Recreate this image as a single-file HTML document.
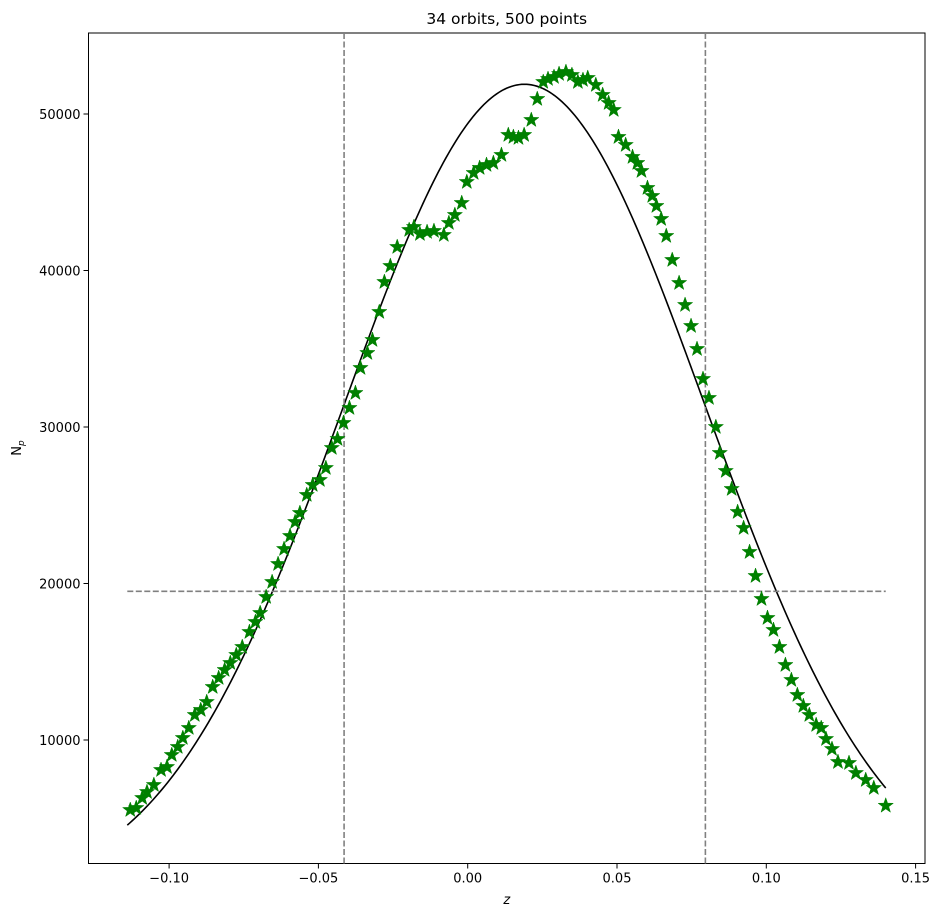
<!DOCTYPE html>
<html><head><meta charset="utf-8"><style>
html,body{margin:0;padding:0;background:#fff;}
svg text{font-family:"DejaVu Sans","Liberation Sans",sans-serif;font-size:13px;fill:#000;}
</style></head><body>
<svg id="chart" width="941" height="917" xmlns="http://www.w3.org/2000/svg"></svg>
<script>
var zVals=[-0.1130,-0.1110,-0.1090,-0.1074,-0.1051,-0.1027,-0.1007,-0.0991,-0.0971,-0.0954,-0.0934,-0.0914,-0.0894,-0.0874,-0.0854,-0.0834,-0.0814,-0.0795,-0.0775,-0.0755,-0.0731,-0.0711,-0.0695,-0.0675,-0.0655,-0.0635,-0.0615,-0.0595,-0.0578,-0.0562,-0.0539,-0.0519,-0.0495,-0.0475,-0.0455,-0.0436,-0.0416,-0.0396,-0.0376,-0.0359,-0.0336,-0.0319,-0.0296,-0.0279,-0.0259,-0.0236,-0.0196,-0.0180,-0.0160,-0.0136,-0.0113,-0.0080,-0.0063,-0.0043,-0.0020,-0.0003,0.0020,0.0040,0.0063,0.0086,0.0113,0.0136,0.0153,0.0170,0.0189,0.0213,0.0233,0.0253,0.0269,0.0289,0.0306,0.0329,0.0349,0.0369,0.0386,0.0402,0.0429,0.0452,0.0472,0.0489,0.0505,0.0529,0.0552,0.0568,0.0582,0.0602,0.0618,0.0632,0.0648,0.0665,0.0685,0.0708,0.0728,0.0748,0.0768,0.0788,0.0808,0.0831,0.0844,0.0864,0.0884,0.0904,0.0924,0.0944,0.0964,0.0984,0.1004,0.1024,0.1044,0.1064,0.1084,0.1104,0.1124,0.1144,0.1167,0.1184,0.1200,0.1220,0.1240,0.1277,0.1300,0.1333,0.1360,0.1400];
var nVals=[5527,5655,6294,6677,7125,8083,8275,9042,9553,10128,10767,11598,11917,12428,13387,13962,14473,14920,15432,15943,16901,17540,18115,19138,20096,21246,22205,23036,23930,24505,25656,26295,26614,27381,28659,29234,30256,31215,32173,33771,34729,35560,37349,39266,40289,41503,42589,42781,42333,42461,42525,42270,43036,43548,44314,45656,46231,46551,46743,46870,47382,48660,48532,48468,48660,49618,50960,52046,52238,52366,52557,52685,52493,52046,52174,52302,51855,51216,50704,50257,48532,48021,47254,46870,46359,45273,44762,44123,43292,42206,40672,39202,37797,36455,34985,33068,31854,30001,28339,27189,26039,24569,23547,22013,20480,19010,17796,17029,15943,14793,13834,12876,12173,11598,10959,10767,10064,9425,8594,8530,7891,7444,6933,5800];
var fitParams=[51900,0.019,0.0603];
var fitRange=[-0.114,0.140];
var hLineVal=19500;
var vLineVals=[-0.0414,0.0796];
var xTicks=[-0.10,-0.05,0.00,0.05,0.10,0.15];
var xTickLabels=["\u22120.10","\u22120.05","0.00","0.05","0.10","0.15"];
var yTicks=[10000,20000,30000,40000,50000];
var yTickLabels=["10000","20000","30000","40000","50000"];

(function(){
var L=88.5,R=925,T=33,B=863.5;
function X(z){return 467.7+z*2986;}
function Y(n){return 740-(n-10000)*0.01565;}
var root=document.getElementById('chart');
var NS='http://www.w3.org/2000/svg';
function mk(tag,attrs,parent){var e=document.createElementNS(NS,tag);for(var k in attrs)e.setAttribute(k,attrs[k]);(parent||root).appendChild(e);return e;}

var fr=mk('rect',{x:L,y:T,width:R-L,height:B-T,fill:'none',stroke:'#000','stroke-width':1});



var A=fitParams[0],mu=fitParams[1],sg=fitParams[2];
var d='';
for(var i=0;i<=300;i++){var z=fitRange[0]+(fitRange[1]-fitRange[0])*i/300;var n=A*Math.exp(-(z-mu)*(z-mu)/(2*sg*sg));d+=(i?'L':'M')+X(z).toFixed(2)+','+Y(n).toFixed(2);}
var fc=mk('path',{d:d,fill:'none',stroke:'#000','stroke-width':1.6});



var hl=mk('line',{x1:X(fitRange[0]),x2:X(fitRange[1]),y1:Y(hLineVal),y2:Y(hLineVal),stroke:'#808080','stroke-width':1.6,'stroke-dasharray':'6,2.5'});


vLineVals.forEach(function(v,i){
  var vl=mk('line',{x1:X(v),x2:X(v),y1:T,y2:B,stroke:'#808080','stroke-width':1.6,'stroke-dasharray':'6,2.5'});
  
  
});

function starPath(cx,cy,r){var p='';for(var i=0;i<10;i++){var rr=i%2?r*0.4:r;var a=-Math.PI/2+i*Math.PI/5;p+=(i?'L':'M')+(cx+rr*Math.cos(a)).toFixed(2)+','+(cy+rr*Math.sin(a)).toFixed(2);}return p+'Z';}
zVals.forEach(function(z,i){
  var s=mk('path',{d:starPath(X(z),Y(nVals[i]),8),fill:'#008000',stroke:'#008000','stroke-width':0.5});
  
  
});

xTicks.forEach(function(t,i){
  var x=X(t);
  var tk=mk('line',{x1:x,x2:x,y1:B,y2:B+5,stroke:'#000','stroke-width':1});
  
  
  var tx=mk('text',{x:x,y:B+19,'text-anchor':'middle'});tx.textContent=xTickLabels[i];
  
  
});
yTicks.forEach(function(t,i){
  var y=Y(t);
  var tk=mk('line',{x1:L-5,x2:L,y1:y,y2:y,stroke:'#000','stroke-width':1});
  
  
  var tx=mk('text',{x:L-8,y:y+5,'text-anchor':'end'});tx.textContent=yTickLabels[i];
  
  
});

var ttl=mk('text',{x:(L+R)/2,y:24,'text-anchor':'middle',style:'font-size:15.5px'});ttl.textContent='34 orbits, 500 points';


var xl=mk('text',{x:(L+R)/2,y:904,'text-anchor':'middle','font-style':'italic'});xl.textContent='z';


var yl=mk('text',{x:21,y:448,'text-anchor':'middle',transform:'rotate(-90 21 448)'});


yl.appendChild(document.createTextNode('N'));
var sub=mk('tspan',{dy:3,style:'font-size:9px','font-style':'italic'},yl);sub.textContent='p';
})();
</script>
</body></html>
